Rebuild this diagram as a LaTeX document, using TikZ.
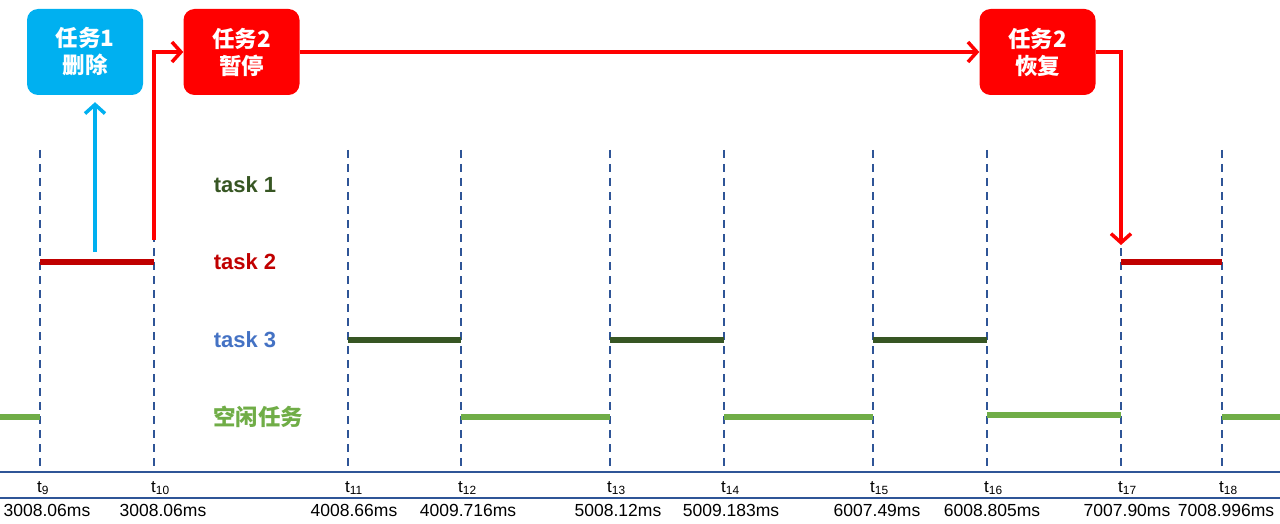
\documentclass[tikz,border=0pt]{standalone}
\usepackage{fontspec}
\setmainfont{Liberation Sans}
\newfontfamily\cjk{Noto Sans CJK SC}
\usetikzlibrary{arrows.meta}
\definecolor{tickblue}{HTML}{2F5597}
\definecolor{taskred}{HTML}{C00000}
\definecolor{taskdark}{HTML}{375623}
\definecolor{taskblue}{HTML}{4472C4}
\definecolor{idlegreen}{HTML}{70AD47}
\definecolor{boxblue}{HTML}{00B0F0}
\definecolor{boxred}{HTML}{FF0000}
\tikzset{
	evbox/.style={rounded corners=11pt, minimum width=116pt, minimum height=86pt, inner sep=0pt,
		text=white, align=center, font=\cjk\bfseries\fontsize{22.5}{27}\selectfont},
	tickline/.style={tickblue, line width=2.2pt, dash pattern=on 8pt off 6pt},
	runbar/.style={line width=5.5pt},
	rowlabel/.style={font=\bfseries\fontsize{22}{26}\selectfont},
	redarrow/.style={boxred, line width=3.5pt, -{Straight Barb[length=9pt,width=20pt]}},
	bluearrow/.style={boxblue, line width=3.5pt, -{Straight Barb[length=9pt,width=20pt]}}
}
\begin{document}
\begin{tikzpicture}[x=1pt, y=-1pt]
	\useasboundingbox (0,0) rectangle (1280,524);
	
	\node[evbox, fill=boxblue] (delete) at (85,52) {任务1\\删除};
	\node[evbox, fill=boxred] (pause) at (241.5,52) {任务2\\暂停};
	\node[evbox, fill=boxred] (resume) at (1037.5,52) {任务2\\恢复};
	
	\draw[tickblue, line width=1.8pt] (0,472) -- (1280,472);
	\draw[tickblue, line width=1.8pt] (0,498) -- (1280,498);
	
	\foreach \n/\x/\vx/\v in {9/40/47/3008.06ms, 10/154/163/3008.06ms, 11/348/354/4008.66ms,
		12/461/468/4009.716ms, 13/610/618/5008.12ms, 14/724/731/5009.183ms,
		15/873/877/6007.49ms, 16/987/992/6008.805ms, 17/1121/1127/7007.90ms,
		18/1222/1226/7008.996ms}{
		\coordinate (t\n) at (\x,150);
		\draw[tickline] (t\n) -- (\x,472);
		\node[anchor=west, inner sep=0pt, font=\fontsize{17}{20}\selectfont] (l\n) at (\x-3,488) {t\textsubscript{\n}};
		\node[inner sep=0pt, font=\fontsize{17.5}{20}\selectfont] (v\n) at (\vx,510) {\v};
	}
	
	\node[rowlabel, text=taskdark] (task1) at (245,185) {task 1};
	\node[rowlabel, text=taskred] (task2) at (245,262) {task 2};
	\node[rowlabel, text=taskblue] (task3) at (245,340) {task 3};
	\node[font=\cjk\bfseries\fontsize{22.5}{26}\selectfont, text=idlegreen] (idle) at (258,417) {空闲任务};
	
	\draw[runbar, taskred] (40,262) -- (154,262);
	\draw[runbar, taskred] (1121,262) -- (1222,262);
	\draw[runbar, taskdark] (348,340) -- (461,340);
	\draw[runbar, taskdark] (610,340) -- (724,340);
	\draw[runbar, taskdark] (873,340) -- (987,340);
	\draw[runbar, idlegreen] (0,417) -- (40,417);
	\draw[runbar, idlegreen] (461,417) -- (610,417);
	\draw[runbar, idlegreen] (724,417) -- (873,417);
	\draw[runbar, idlegreen] (987,415) -- (1121,415);
	\draw[runbar, idlegreen] (1222,417) -- (1280,417);
	
	\coordinate (del0) at (95,252);
	\coordinate (pause0) at (154,240);
	\coordinate (resume0) at (1121,245);
	\draw[bluearrow, shorten >=7pt] (del0) -- (delete.south -| del0);
	\draw[redarrow] (pause0) |- (pause.west);
	\draw[redarrow] (pause.east) -- (resume.west);
	\draw[redarrow] (resume.east) -| (resume0);
\end{tikzpicture}
\end{document}
